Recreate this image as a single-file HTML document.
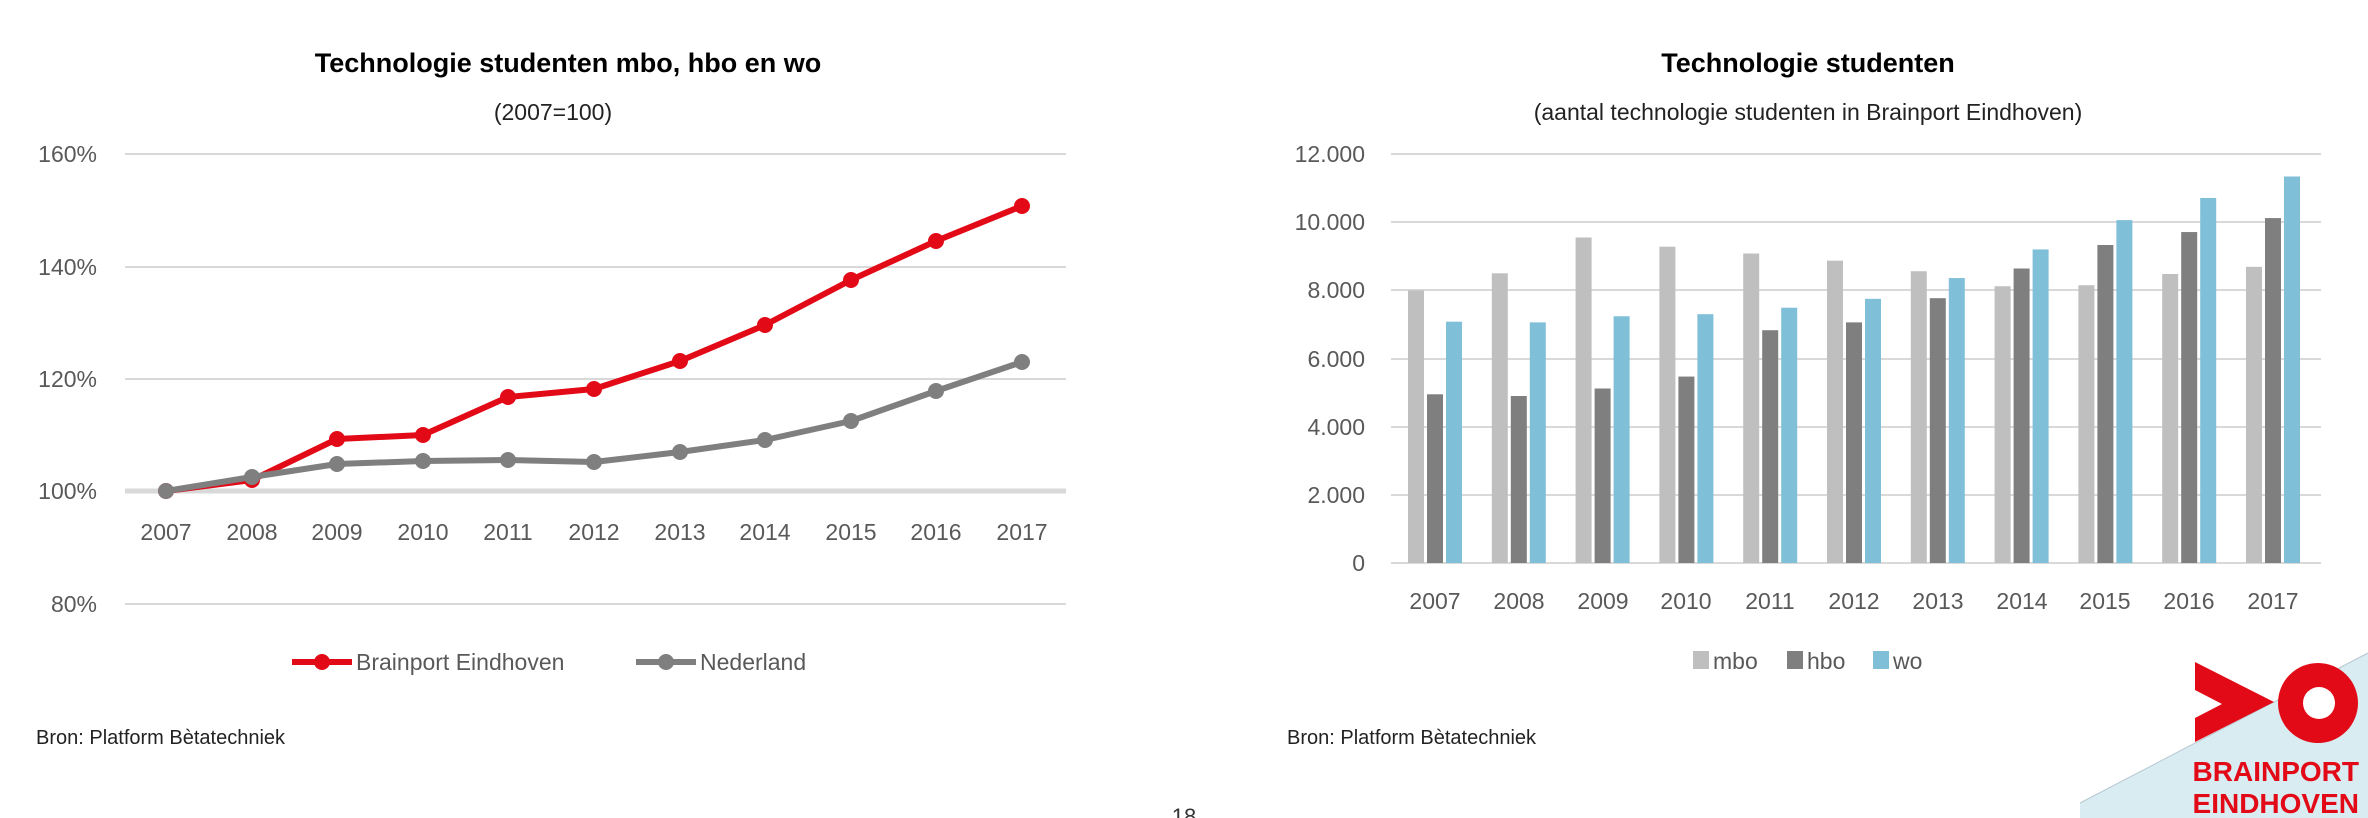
<!DOCTYPE html>
<html><head><meta charset="utf-8"><style>
html,body{margin:0;padding:0;background:#fff;}
svg{display:block;font-family:"Liberation Sans",sans-serif;}
</style></head><body>
<svg width="2368" height="818" viewBox="0 0 2368 818" xmlns="http://www.w3.org/2000/svg">
<polygon points="2080,803 2368,653 2368,818 2080,818" fill="#d8ecf2"/>
<line x1="2080" y1="803" x2="2368" y2="653" stroke="#b8c8d0" stroke-width="1"/>
<text x="1184" y="824" font-size="22" fill="#333" text-anchor="middle">18</text>

<!-- Left chart -->
<text x="568" y="72" font-size="27" font-weight="bold" text-anchor="middle" fill="#000">Technologie studenten mbo, hbo en wo</text>
<text x="553" y="120" font-size="23" text-anchor="middle" fill="#222">(2007=100)</text>
<g stroke="#d9d9d9" stroke-width="2">
<line x1="125" y1="154" x2="1066" y2="154"/>
<line x1="125" y1="267" x2="1066" y2="267"/>
<line x1="125" y1="379" x2="1066" y2="379"/>
<line x1="125" y1="604" x2="1066" y2="604"/>
</g>
<line x1="125" y1="491" x2="1066" y2="491" stroke="#d9d9d9" stroke-width="5"/>
<g font-size="23" fill="#595959" text-anchor="end">
<text x="97" y="162">160%</text><text x="97" y="275">140%</text><text x="97" y="387">120%</text><text x="97" y="499">100%</text><text x="97" y="612">80%</text>
</g>
<g font-size="23" fill="#595959" text-anchor="middle">
<text x="166" y="540">2007</text><text x="252" y="540">2008</text><text x="337" y="540">2009</text><text x="423" y="540">2010</text><text x="508" y="540">2011</text><text x="594" y="540">2012</text><text x="680" y="540">2013</text><text x="765" y="540">2014</text><text x="851" y="540">2015</text><text x="936" y="540">2016</text><text x="1022" y="540">2017</text>
</g>
<polyline fill="none" stroke="#e30a18" stroke-width="6" stroke-linejoin="round" points="166,491 252,480 337,439 423,435 508,397 594,389 680,361 765,325 851,280 936,241 1022,206"/>
<g fill="#e30a18">
<circle cx="166" cy="491" r="8"/><circle cx="252" cy="480" r="8"/><circle cx="337" cy="439" r="8"/><circle cx="423" cy="435" r="8"/><circle cx="508" cy="397" r="8"/><circle cx="594" cy="389" r="8"/><circle cx="680" cy="361" r="8"/><circle cx="765" cy="325" r="8"/><circle cx="851" cy="280" r="8"/><circle cx="936" cy="241" r="8"/><circle cx="1022" cy="206" r="8"/>
</g>
<polyline fill="none" stroke="#7f7f7f" stroke-width="6" stroke-linejoin="round" points="166,491 252,477 337,464 423,461 508,460 594,462 680,452 765,440 851,421 936,391 1022,362"/>
<g fill="#7f7f7f">
<circle cx="166" cy="491" r="8"/><circle cx="252" cy="477" r="8"/><circle cx="337" cy="464" r="8"/><circle cx="423" cy="461" r="8"/><circle cx="508" cy="460" r="8"/><circle cx="594" cy="462" r="8"/><circle cx="680" cy="452" r="8"/><circle cx="765" cy="440" r="8"/><circle cx="851" cy="421" r="8"/><circle cx="936" cy="391" r="8"/><circle cx="1022" cy="362" r="8"/>
</g>
<line x1="292" y1="662" x2="352" y2="662" stroke="#e30a18" stroke-width="6"/><circle cx="322" cy="662" r="8" fill="#e30a18"/>
<text x="356" y="670" font-size="23" fill="#595959">Brainport Eindhoven</text>
<line x1="636" y1="662" x2="696" y2="662" stroke="#7f7f7f" stroke-width="6"/><circle cx="666" cy="662" r="8" fill="#7f7f7f"/>
<text x="700" y="670" font-size="23" fill="#595959">Nederland</text>
<text x="36" y="744" font-size="20" fill="#222">Bron: Platform Bètatechniek</text>

<!-- Right chart -->
<text x="1808" y="72" font-size="27" font-weight="bold" text-anchor="middle" fill="#000">Technologie studenten</text>
<text x="1808" y="120" font-size="23" text-anchor="middle" fill="#222">(aantal technologie studenten in Brainport Eindhoven)</text>
<g stroke="#d9d9d9" stroke-width="2">
<line x1="1391" y1="154" x2="2321" y2="154"/><line x1="1391" y1="222" x2="2321" y2="222"/><line x1="1391" y1="290" x2="2321" y2="290"/><line x1="1391" y1="359" x2="2321" y2="359"/><line x1="1391" y1="427" x2="2321" y2="427"/><line x1="1391" y1="495" x2="2321" y2="495"/><line x1="1391" y1="563" x2="2321" y2="563"/>
</g>
<g font-size="23" fill="#595959" text-anchor="end">
<text x="1365" y="162">12.000</text><text x="1365" y="230">10.000</text><text x="1365" y="298">8.000</text><text x="1365" y="367">6.000</text><text x="1365" y="435">4.000</text><text x="1365" y="503">2.000</text><text x="1365" y="571">0</text>
</g>
<g font-size="23" fill="#595959" text-anchor="middle">
<text x="1435" y="609">2007</text><text x="1519" y="609">2008</text><text x="1603" y="609">2009</text><text x="1686" y="609">2010</text><text x="1770" y="609">2011</text><text x="1854" y="609">2012</text><text x="1938" y="609">2013</text><text x="2022" y="609">2014</text><text x="2105" y="609">2015</text><text x="2189" y="609">2016</text><text x="2273" y="609">2017</text>
</g>
<g id="bars"></g>
<rect x="1693" y="651" width="16" height="18" fill="#bfbfbf"/><text x="1713" y="669" font-size="23" fill="#595959">mbo</text>
<rect x="1787" y="651" width="16" height="18" fill="#7f7f7f"/><text x="1807" y="669" font-size="23" fill="#595959">hbo</text>
<rect x="1873" y="651" width="16" height="18" fill="#7fbfd8"/><text x="1893" y="669" font-size="23" fill="#595959">wo</text>
<text x="1287" y="744" font-size="20" fill="#222">Bron: Platform Bètatechniek</text>

<!-- Logo -->
<polygon points="2195,662 2274,702 2195,742 2195,718 2222,704 2195,690" fill="#e30a18"/>
<circle cx="2318" cy="703" r="40" fill="#e30a18"/>
<circle cx="2319" cy="703" r="16" fill="#fff"/>
<text x="2359" y="781" font-size="28" font-weight="bold" fill="#e30a18" text-anchor="end">BRAINPORT</text>
<text x="2359" y="813" font-size="28" font-weight="bold" fill="#e30a18" text-anchor="end">EINDHOVEN</text>
</svg>
<script>
var mbo=[8000,8500,9550,9280,9080,8870,8560,8120,8150,8480,8690];
var hbo=[4950,4900,5120,5470,6830,7060,7770,8640,9330,9710,10120];
var wo=[7080,7060,7240,7300,7490,7750,8360,9200,10060,10710,11340];
var g=document.getElementById('bars'),ns='http://www.w3.org/2000/svg';
function bar(x,v,c){var h=v*409/12000;var r=document.createElementNS(ns,'rect');r.setAttribute('x',x);r.setAttribute('y',563-h);r.setAttribute('width',16);r.setAttribute('height',h);r.setAttribute('fill',c);g.appendChild(r);}
for(var i=0;i<11;i++){var c=1435+i*83.8;bar(c-27,mbo[i],'#bfbfbf');bar(c-8,hbo[i],'#7f7f7f');bar(c+11,wo[i],'#7fbfd8');}
</script>
</body></html>
